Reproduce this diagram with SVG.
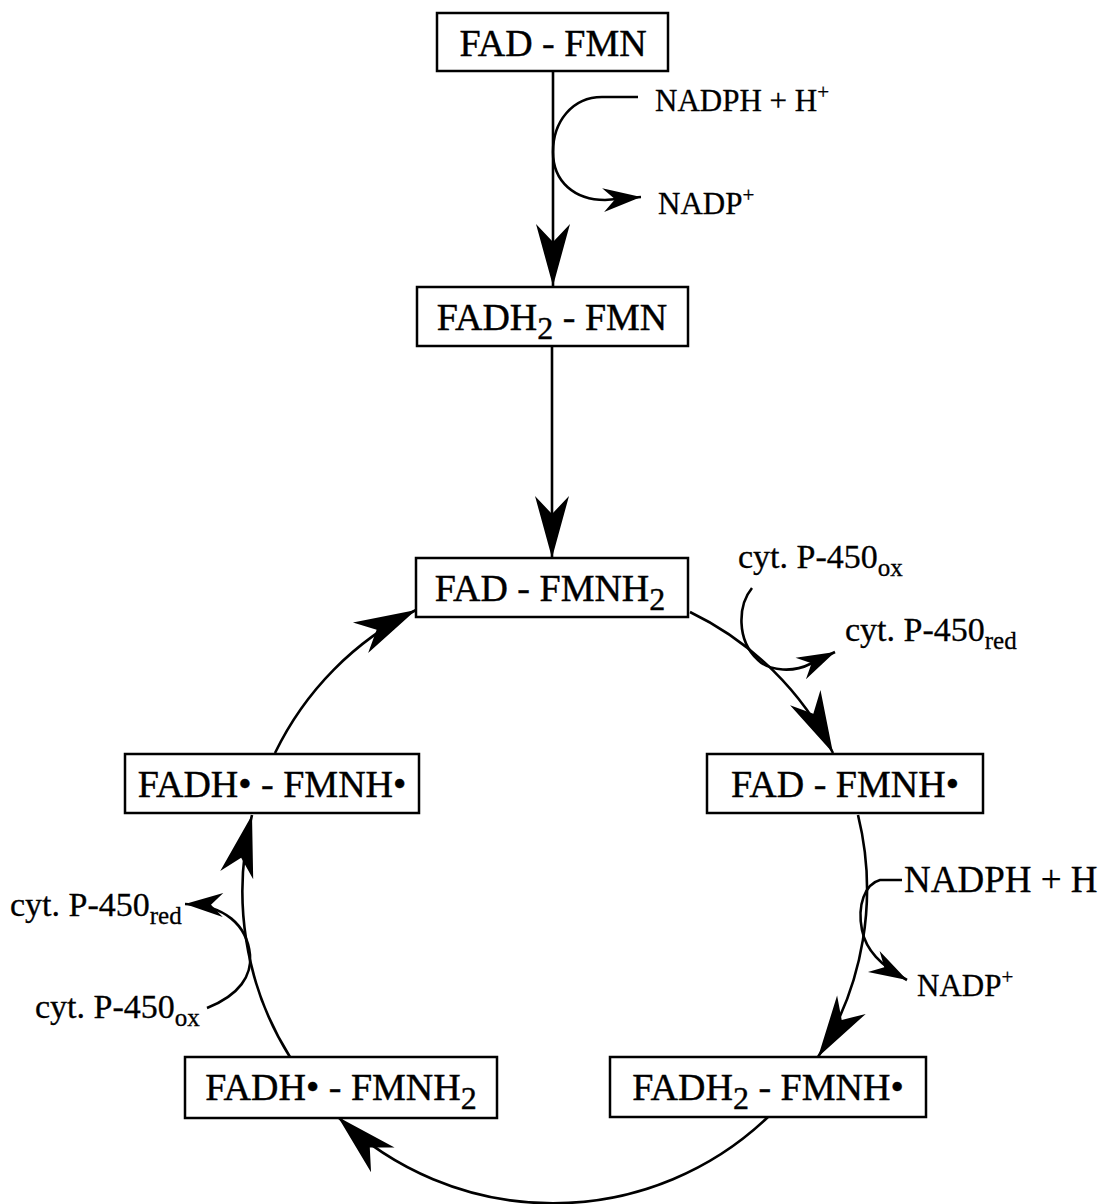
<svg xmlns="http://www.w3.org/2000/svg" width="1115" height="1204" viewBox="0 0 1115 1204">
<style>
.box{fill:#fff;stroke:#000;stroke-width:2.5}
.t{font-family:"Liberation Serif","Times New Roman",serif;font-size:38px;fill:#000;stroke:#000;stroke-width:0.4}
.l{font-family:"Liberation Serif","Times New Roman",serif;font-size:31px;fill:#000;stroke:#000;stroke-width:0.3}
.cy{font-size:34px}
.big{font-size:37px}
.c{fill:none;stroke:#000;stroke-width:2.6}
</style>
<defs>
<marker id="big" markerUnits="userSpaceOnUse" markerWidth="70" markerHeight="40" refX="64" refY="20" orient="auto" overflow="visible">
<path d="M64,20 L2,3 L20,20 L2,37 Z" fill="#000"/>
</marker>
<marker id="small" markerUnits="userSpaceOnUse" markerWidth="44" markerHeight="28" refX="40" refY="14" orient="auto" overflow="visible">
<path d="M40,14 L2,2 L14,14 L2,26 Z" fill="#000"/>
</marker>
</defs>
<g id="connectors">
<path class="c" d="M553,72 L553,286" marker-end="url(#big)"/>
<path class="c" d="M552,346 L552,558" marker-end="url(#big)"/>
<path class="c" d="M275,753 A311,311 0 0 1 416,610" marker-end="url(#big)"/>
<path class="c" d="M690,612 A311,311 0 0 1 833,753" marker-end="url(#big)"/>
<path class="c" d="M858,815 A311,311 0 0 1 818,1057" marker-end="url(#big)"/>
<path class="c" d="M768,1117 A311,311 0 0 1 338,1117" marker-end="url(#big)"/>
<path class="c" d="M290,1057 A311,311 0 0 1 252,815" marker-end="url(#big)"/>
<path class="c" d="M638,97 L602,97 C572,97 553,122 553,152 C553,182 575,200 605,200 L641,197" marker-end="url(#small)"/>
<path class="c" d="M752,588 C738,605 736,640 758,660 C770,672 795,672 810,664 L835,652" marker-end="url(#small)"/>
<path class="c" d="M902,880 L880,880 C865,884 857,905 862,930 C866,950 880,965 907,980" marker-end="url(#small)"/>
<path class="c" d="M207,1008 C240,995 252,975 250,955 C247,925 225,905 185,904" marker-end="url(#small)"/>
</g>
<g id="n1"><rect class="box" x="437" y="13" width="231" height="58"/><text class="t" x="553" y="56" text-anchor="middle">FAD - FMN</text></g>
<g id="n2"><rect class="box" x="417" y="287" width="271" height="59"/><text class="t" x="552" y="330" text-anchor="middle">FADH<tspan font-size="32" dy="9">2</tspan><tspan dy="-9"> - FMN</tspan></text></g>
<g id="n3"><rect class="box" x="416" y="558" width="272" height="59"/><text class="t" x="550" y="601" text-anchor="middle">FAD - FMNH<tspan font-size="32" dy="9">2</tspan></text></g>
<g id="n4"><rect class="box" x="707" y="754" width="276" height="59"/><text class="t" x="845" y="797" text-anchor="middle">FAD - FMNH•</text></g>
<g id="n5"><rect class="box" x="610" y="1057" width="316" height="60"/><text class="t" x="768" y="1100" text-anchor="middle">FADH<tspan font-size="32" dy="9">2</tspan><tspan dy="-9"> - FMNH•</tspan></text></g>
<g id="n6"><rect class="box" x="185" y="1057" width="312" height="61"/><text class="t" x="341" y="1100" text-anchor="middle">FADH• - FMNH<tspan font-size="32" dy="9">2</tspan></text></g>
<g id="n7"><rect class="box" x="125" y="754" width="294" height="59"/><text class="t" x="272" y="797" text-anchor="middle">FADH• - FMNH•</text></g>
<g id="labels">
<text class="l" x="655" y="111">NADPH + H<tspan font-size="21" dy="-12">+</tspan></text>
<text class="l" x="658" y="214">NADP<tspan font-size="21" dy="-12">+</tspan></text>
<text class="l cy" x="738" y="568">cyt. P-450<tspan font-size="25" dy="8">ox</tspan></text>
<text class="l cy" x="845" y="641">cyt. P-450<tspan font-size="25" dy="8">red</tspan></text>
<text class="l big" x="904" y="892">NADPH + H</text>
<text class="l" x="917" y="996">NADP<tspan font-size="21" dy="-12">+</tspan></text>
<text class="l cy" x="10" y="916">cyt. P-450<tspan font-size="25" dy="8">red</tspan></text>
<text class="l cy" x="35" y="1018">cyt. P-450<tspan font-size="25" dy="8">ox</tspan></text>
</g>
</svg>
